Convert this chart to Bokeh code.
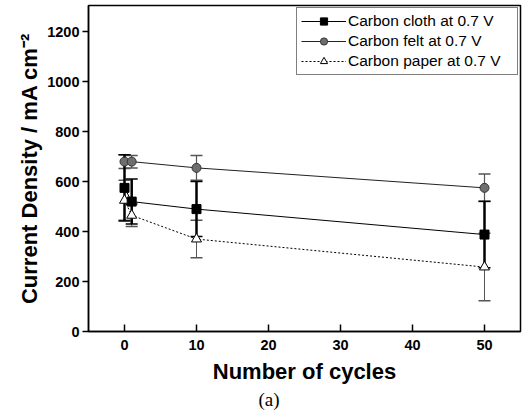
from bokeh.plotting import figure
from bokeh.models import ColumnDataSource, Whisker, Legend, LegendItem, Range1d, FixedTicker, TeeHead, Title
from bokeh.embed import file_html
from bokeh.resources import INLINE

# ---- data ----
cycles = [0, 1, 10, 50]
cloth = [575, 520, 490, 388]
cloth_err = [133, 90, 110, 133]
felt = [680, 680, 655, 575]
felt_err = [28, 25, 50, 55]
paper = [525, 465, 370, 258]
paper_err = [80, 45, 75, 135]

x_ticks = [0, 10, 20, 30, 40, 50]
y_ticks = [0, 200, 400, 600, 800, 1000, 1200]

legend_labels = ["Carbon cloth at 0.7 V", "Carbon felt at 0.7 V", "Carbon paper at 0.7 V"]
x_title = "Number of cycles"
y_title = "Current Density / mA cm\u207b\u00b2"
caption = "(a)"

W, H = 523, 414
p = figure(width=W, height=H, output_backend="svg", toolbar_location=None,
           x_range=Range1d(-5, 55), y_range=Range1d(0, 1305),
           min_border_left=88, min_border_right=3, min_border_top=5, min_border_bottom=83)
p.grid.visible = False
p.outline_line_color = "black"
p.outline_line_width = 1.5
p.background_fill_color = "white"
p.border_fill_color = "white"

for ax in (p.xaxis[0], p.yaxis[0]):
    ax.axis_line_width = 1.5
    ax.major_tick_line_width = 1.5
    ax.minor_tick_line_color = None
    ax.major_label_text_font = "Liberation Sans"
    ax.major_label_text_font_style = "bold"
    ax.major_label_text_font_size = "14.5px"
    ax.major_label_text_color = "black"
    ax.axis_label_text_font = "Liberation Sans"
    ax.axis_label_text_font_style = "bold"
    ax.axis_label_text_font_size = "22px"
    ax.axis_label_text_color = "black"

p.xaxis.ticker = FixedTicker(ticks=x_ticks)
p.yaxis.ticker = FixedTicker(ticks=y_ticks)
p.xaxis.major_tick_in = 7
p.xaxis.major_tick_out = 0
p.xaxis.major_label_standoff = 8
p.xaxis.axis_label = x_title
p.xaxis.axis_label_standoff = 6
p.yaxis.major_tick_in = 0
p.yaxis.major_tick_out = 6
p.yaxis.major_label_standoff = 3
p.yaxis.axis_label = y_title
p.yaxis.axis_label_standoff = 2


def make_src(vals, errs):
    return ColumnDataSource(dict(x=cycles, y=vals,
                                 upper=[v + e for v, e in zip(vals, errs)],
                                 lower=[v - e for v, e in zip(vals, errs)]))

s_cloth = make_src(cloth, cloth_err)
s_felt = make_src(felt, felt_err)
s_paper = make_src(paper, paper_err)

# error bars
for src, col, lw in ((s_paper, "#555555", 1.0), (s_felt, "#555555", 1.2), (s_cloth, "black", 2.5)):
    w = Whisker(base="x", upper="upper", lower="lower", source=src,
                line_color=col, line_width=lw,
                upper_head=TeeHead(size=12, line_color=col, line_width=1.5),
                lower_head=TeeHead(size=12, line_color=col, line_width=1.5))
    p.add_layout(w)

l_paper = p.line("x", "y", source=s_paper, line_color="black", line_width=1, line_dash="2 2")
m_paper = p.scatter("x", "y", source=s_paper, marker="triangle", size=10,
                    fill_color="white", line_color="black", line_width=1)
l_cloth = p.line("x", "y", source=s_cloth, line_color="black", line_width=1)
m_cloth = p.scatter("x", "y", source=s_cloth, marker="square", size=9,
                    fill_color="black", line_color="black")
l_felt = p.line("x", "y", source=s_felt, line_color="#222222", line_width=1)
m_felt = p.scatter("x", "y", source=s_felt, marker="circle", size=9,
                   fill_color="#6e6e6e", line_color="#333333", line_width=1)

legend = Legend(items=[
    LegendItem(label=legend_labels[0], renderers=[l_cloth, m_cloth]),
    LegendItem(label=legend_labels[1], renderers=[l_felt, m_felt]),
    LegendItem(label=legend_labels[2], renderers=[l_paper, m_paper]),
], location="top_right")
legend.label_text_font = "Liberation Sans"
legend.label_text_font_size = "15.5px"
legend.label_text_color = "black"
legend.glyph_width = 45
legend.glyph_height = 18
legend.label_height = 18
legend.label_width = 165
legend.spacing = 2
legend.padding = 4
legend.margin = 2
legend.label_standoff = 2
legend.border_line_color = "black"
legend.border_line_width = 1
legend.background_fill_color = "white"
legend.background_fill_alpha = 1
p.add_layout(legend)

cap = Title(text=caption, align="left", offset=170, text_font="Liberation Serif",
            text_font_size="19px", text_font_style="normal", text_color="black",
            standoff=0)
p.add_layout(cap, "below")

open("out.html", "w").write(file_html(p, INLINE))
